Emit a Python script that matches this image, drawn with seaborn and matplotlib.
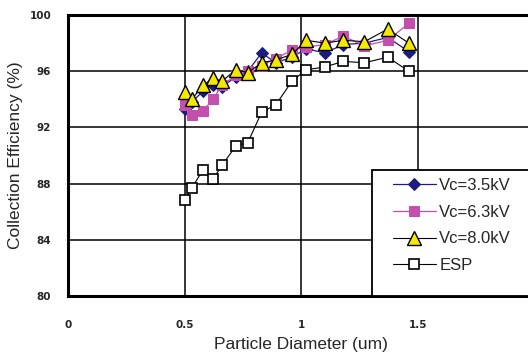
import numpy as np
import pandas as pd
import matplotlib
matplotlib.use("Agg")
import matplotlib.pyplot as plt
import seaborn as sns
from matplotlib.patches import Rectangle

# particle diameter (um) and collection efficiency (%)
diameter = [0.50, 0.53, 0.58, 0.62, 0.66, 0.72, 0.77, 0.83, 0.89, 0.96, 1.02, 1.10, 1.18, 1.27, 1.37, 1.46]
vc35 = [93.3, 93.8, 94.6, 95.0, 94.9, 95.6, 96.0, 97.3, 96.6, 97.0, 97.6, 97.3, 97.9, 98.0, 98.4, 97.4]
vc63 = [93.6, 92.9, 93.2, 94.0, 95.0, 95.7, 96.0, 96.4, 96.9, 97.5, 97.7, 97.9, 98.5, 97.8, 98.2, 99.4]
vc80 = [94.5, 94.0, 95.0, 95.5, 95.3, 96.1, 95.9, 96.6, 96.8, 97.2, 98.2, 98.0, 98.2, 98.1, 99.0, 98.0]
esp = [86.8, 87.7, 89.0, 88.3, 89.3, 90.7, 90.9, 93.1, 93.6, 95.3, 96.1, 96.3, 96.7, 96.6, 97.0, 96.0]

xticks = [0, 0.5, 1, 1.5, 2]
xticklabels = ["0", "0.5", "1", "1.5", "2"]
yticks = [80, 84, 88, 92, 96, 100]

sns.set_style("white")
plt.rcParams['font.family'] = ['Liberation Sans', 'DejaVu Sans']

fig = plt.figure(figsize=(5.28, 3.56), dpi=100)
ax = fig.add_axes([68/528, 60/356, 466.8/528, 281/356])

# series, drawn bottom to top
sns.lineplot(x=diameter, y=esp, ax=ax, color="black", lw=0.8,
             marker="s", markersize=7.5, markerfacecolor="white",
             markeredgecolor="black", markeredgewidth=1.2, label="ESP", zorder=3)
sns.lineplot(x=diameter, y=vc35, ax=ax, color="#1c1c80", lw=0.9,
             marker="D", markersize=6.5, markerfacecolor="#1c1c80",
             markeredgecolor="#1c1c80", label="Vc=3.5kV", zorder=4)
sns.lineplot(x=diameter, y=vc63, ax=ax, color="#c44fae", lw=0.9,
             marker="s", markersize=7.5, markerfacecolor="#c44fae",
             markeredgecolor="#c44fae", label="Vc=6.3kV", zorder=5)
sns.lineplot(x=diameter, y=vc80, ax=ax, color="black", lw=0.8,
             marker="^", markersize=9.5, markerfacecolor="#f5e800",
             markeredgecolor="black", markeredgewidth=1.0, label="Vc=8.0kV", zorder=6)

ax.set_xlim(0, 2)
ax.set_ylim(80, 100)
ax.set_xticks(xticks)
ax.set_xticklabels(xticklabels)
ax.set_yticks(yticks)
ax.tick_params(length=0, labelsize=7.5)
ax.tick_params(axis="x", pad=17)
ax.tick_params(axis="y", pad=12)
for lab in ax.get_xticklabels() + ax.get_yticklabels():
    lab.set_fontweight("bold")
    lab.set_family("DejaVu Sans")

ax.grid(True, color="black", lw=1.1)
ax.set_axisbelow(True)
for s in ["left", "bottom", "top", "right"]:
    ax.spines[s].set_color("black")
    ax.spines[s].set_linewidth(2.2)

ax.set_xlabel("Particle Diameter (um)", fontsize=12.5, labelpad=5)
ax.set_ylabel("Collection Efficiency (%)", fontsize=12.5, labelpad=5)

# legend box reaching down to the x axis
lx = (372 - 68) / 466.8
ly = (296 - 170) / 281
ax.add_patch(Rectangle((lx, 0), 0.5, ly, transform=ax.transAxes,
                       facecolor="white", edgecolor="black", lw=1.3,
                       zorder=10, clip_on=False))
h, l = ax.get_legend_handles_labels()
order = ["Vc=3.5kV", "Vc=6.3kV", "Vc=8.0kV", "ESP"]
hs = [h[l.index(o)] for o in order]
leg = ax.legend(hs, order, loc="upper left", bbox_to_anchor=(lx + 0.03, ly - 0.005),
                frameon=False, fontsize=12, handlelength=2.6, labelspacing=0.7,
                handletextpad=0.2, borderaxespad=0)
leg.set_zorder(11)

fig.savefig("out.png", dpi=100)
